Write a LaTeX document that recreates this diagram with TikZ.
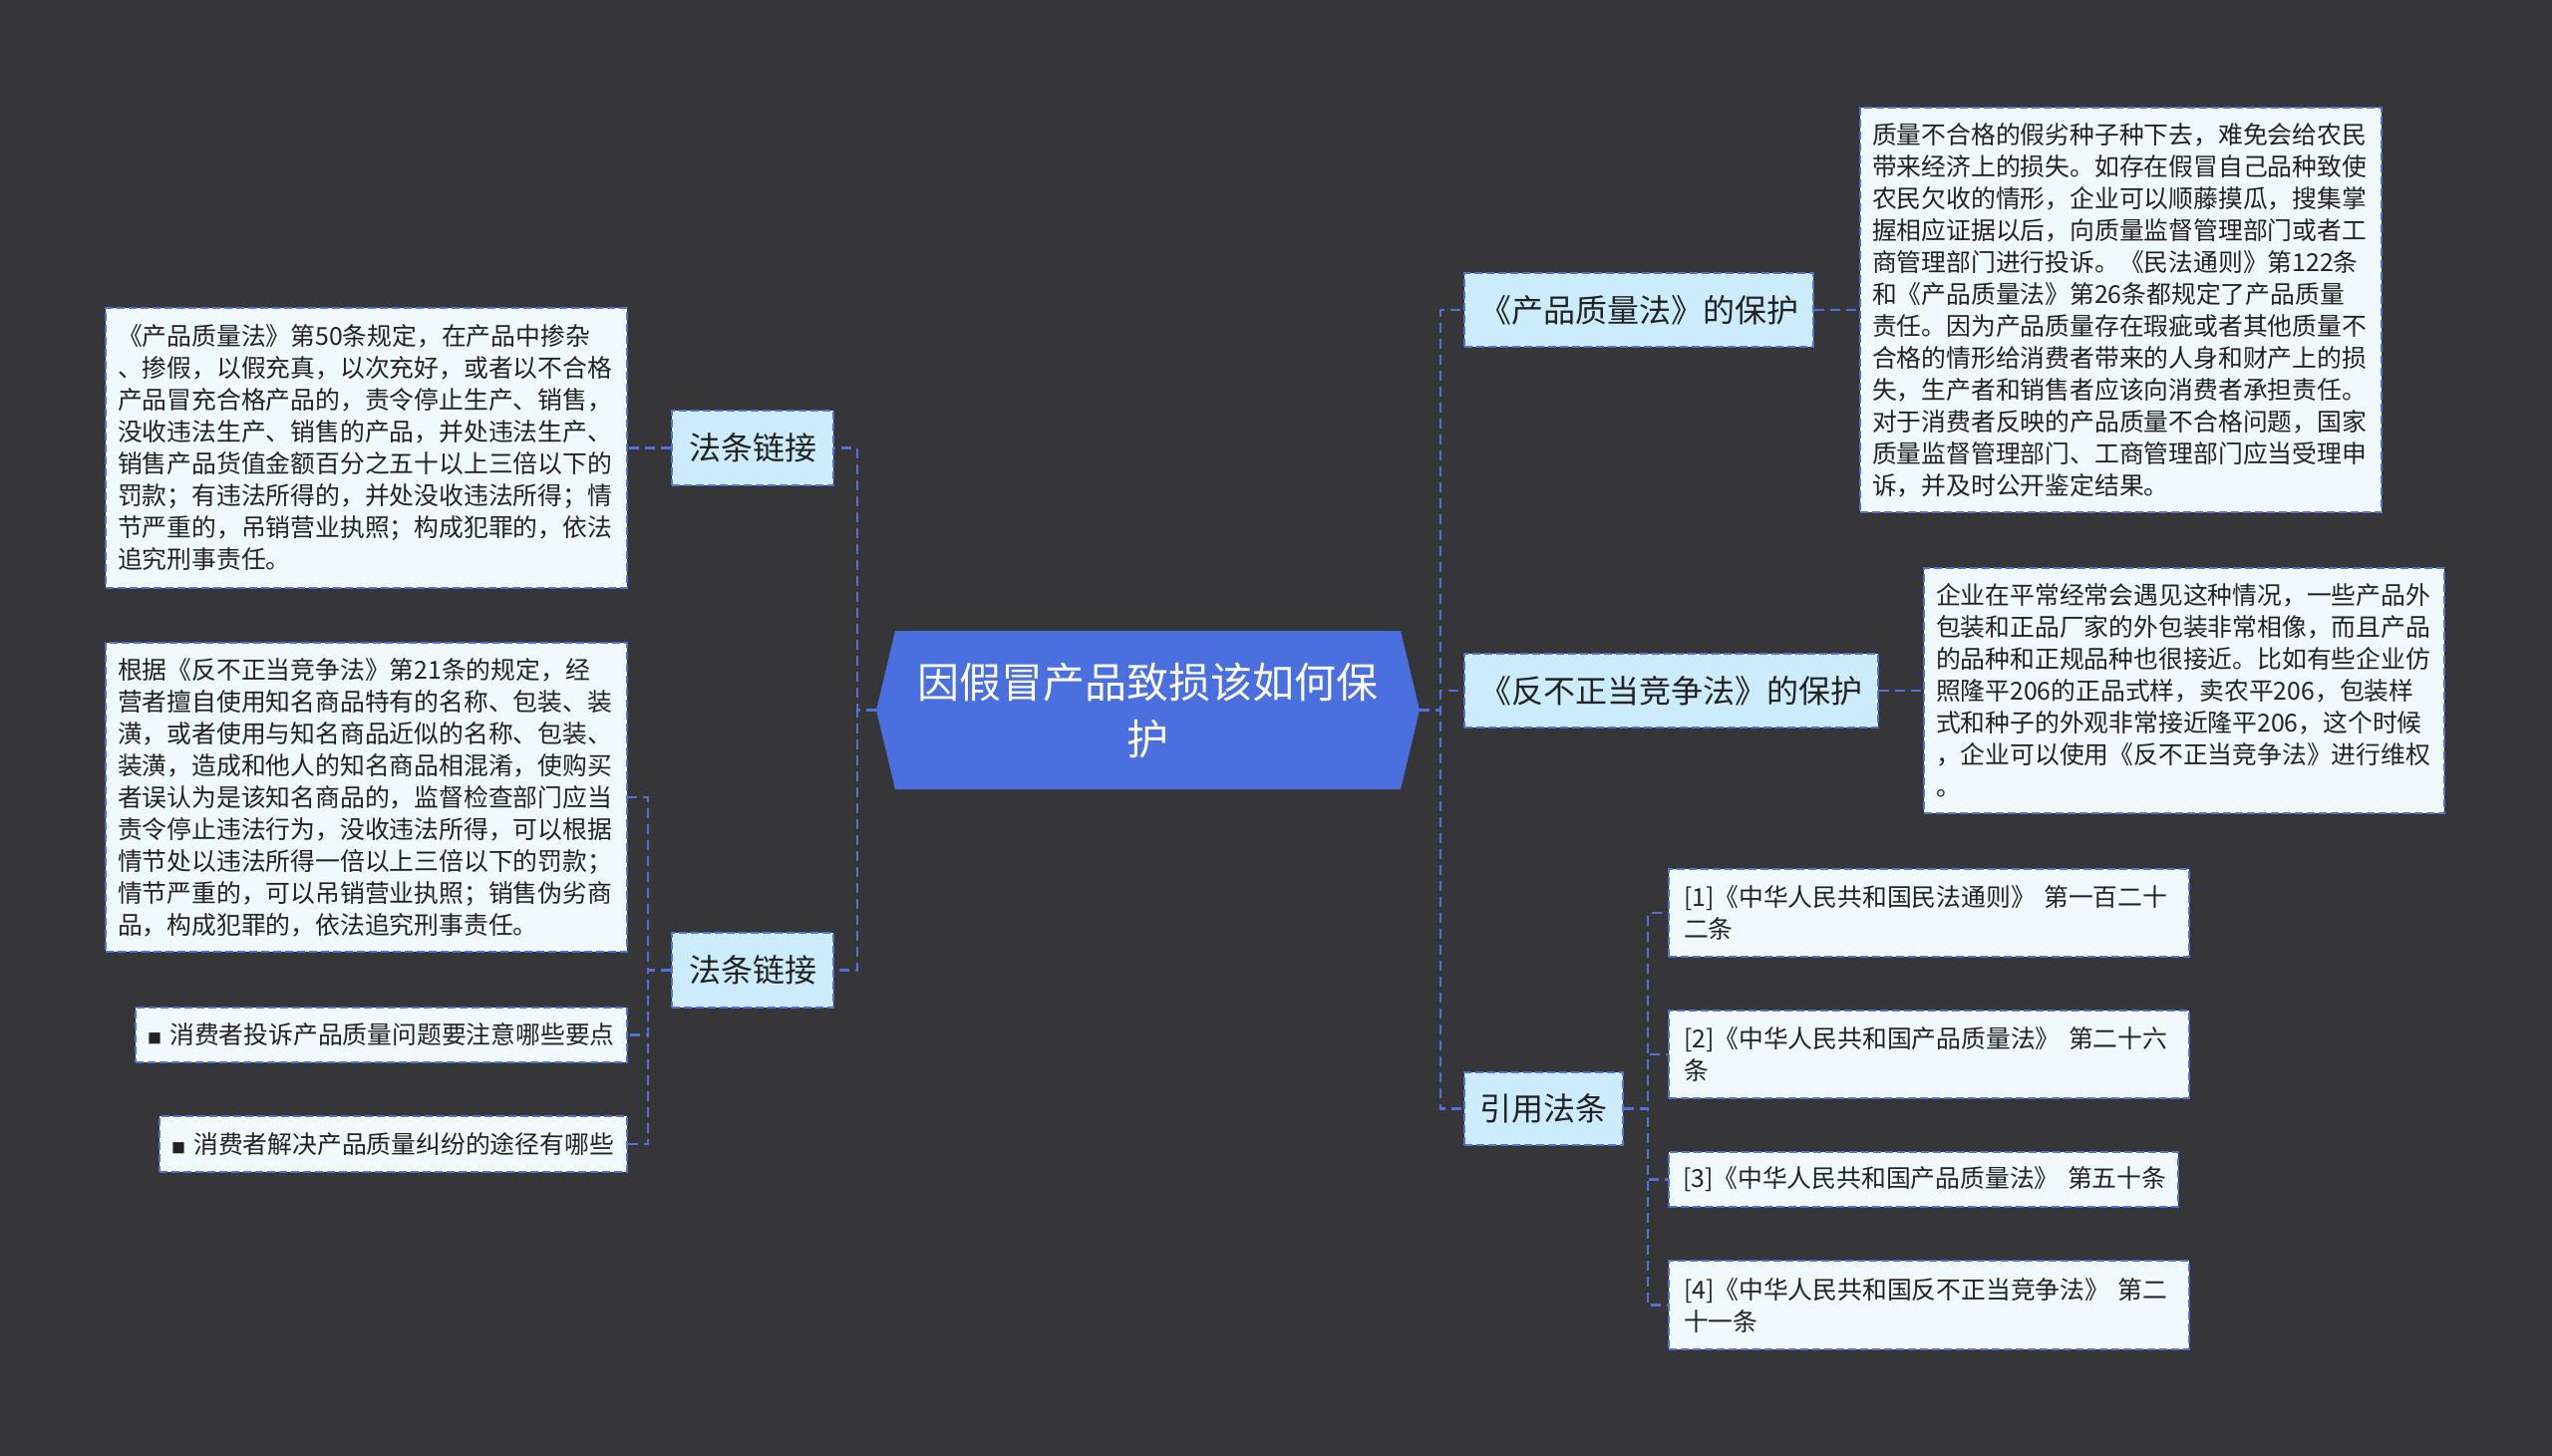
\documentclass[tikz,border=0pt]{standalone}
\usepackage{fontspec}
\setmainfont{Noto Sans CJK SC}
\definecolor{bgC}{RGB}{54,54,56}
\definecolor{rootC}{RGB}{74,111,222}
\definecolor{lineC}{RGB}{80,112,218}
\definecolor{topicC}{RGB}{204,236,252}
\definecolor{leafC}{RGB}{240,250,254}
\definecolor{txtC}{RGB}{34,34,34}
\tikzset{
  conn/.style={draw=lineC, line width=1.3pt, dash pattern=on 5pt off 3pt},
  boxline/.style={draw=lineC, line width=1pt, dash pattern=on 4pt off 2pt},
  topic/.style={boxline, fill=topicC, text=txtC, font=\fontsize{16pt}{18pt}\selectfont, inner sep=0pt},
  leaf/.style={boxline, fill=leafC, text=txtC, font=\fontsize{12.4pt}{16pt}\selectfont, align=left, inner xsep=6pt, inner ysep=0pt},
  refbox/.style={leaf, inner xsep=7.5pt},
  bul/.style={leaf, inner xsep=6pt}
}
\newcommand{\bsq}{{\fontsize{7pt}{7pt}\selectfont ■}\ }
\begin{document}
\begin{tikzpicture}[x=0.5pt,y=-0.5pt]
\fill[bgC] (0,0) rectangle (2560,1461);
\useasboundingbox (0,0) rectangle (2560,1461);

% root
\fill[rootC] (898,633) -- (1405,633) -- (1424,712.5) -- (1405,792) -- (898,792) -- (879,712.5) -- cycle;
\node[text=white, font=\fontsize{21pt}{28.5pt}\selectfont, align=center, minimum width=253.5pt, minimum height=79.5pt, inner sep=0pt] (root) at (1151.5,712.5) {因假冒产品致损该如何保\\护};
\coordinate (rootL) at (879,712.5);
\coordinate (rootR) at (1424,712.5);

% left topics
\node[topic, minimum width=81pt, minimum height=37.5pt] (L1) at (755,449.5) {法条链接};
\node[topic, minimum width=81pt, minimum height=37.5pt] (L2) at (755,973.5) {法条链接};

\node[leaf, text width=249.5pt, minimum height=140.5pt] (L1a) at (367.5,449.5) {《产品质量法》第50条规定，在产品中掺杂\\、掺假，以假充真，以次充好，或者以不合格\\产品冒充合格产品的，责令停止生产、销售，\\没收违法生产、销售的产品，并处违法生产、\\销售产品货值金额百分之五十以上三倍以下的\\罚款；有违法所得的，并处没收违法所得；情\\节严重的，吊销营业执照；构成犯罪的，依法\\追究刑事责任。};

\node[leaf, text width=249.5pt, minimum height=155pt] (L2a) at (367.5,800) {根据《反不正当竞争法》第21条的规定，经\\营者擅自使用知名商品特有的名称、包装、装\\潢，或者使用与知名商品近似的名称、包装、\\装潢，造成和他人的知名商品相混淆，使购买\\者误认为是该知名商品的，监督检查部门应当\\责令停止违法行为，没收违法所得，可以根据\\情节处以违法所得一倍以上三倍以下的罚款；\\情节严重的，可以吊销营业执照；销售伪劣商\\品，构成犯罪的，依法追究刑事责任。};

\node[bul, text width=234.5pt, minimum height=27.5pt] (L2b) at (382.5,1038.5) {\bsq 消费者投诉产品质量问题要注意哪些要点};
\node[bul, text width=222.5pt, minimum height=28pt] (L2c) at (394.5,1148) {\bsq 消费者解决产品质量纠纷的途径有哪些};

% right topics
\node[topic, minimum width=175pt, minimum height=37pt] (R1) at (1644,311) {《产品质量法》的保护};
\node[topic, minimum width=207.5pt, minimum height=37pt] (R2) at (1676.5,693) {《反不正当竞争法》的保护};
\node[topic, minimum width=79.5pt, minimum height=36.5pt] (R3) at (1548.5,1112.5) {引用法条};

\node[leaf, text width=249.5pt, minimum height=203pt] (R1a) at (2127.5,311) {质量不合格的假劣种子种下去，难免会给农民\\带来经济上的损失。如存在假冒自己品种致使\\农民欠收的情形，企业可以顺藤摸瓜，搜集掌\\握相应证据以后，向质量监督管理部门或者工\\商管理部门进行投诉。《民法通则》第122条\\和《产品质量法》第26条都规定了产品质量\\责任。因为产品质量存在瑕疵或者其他质量不\\合格的情形给消费者带来的人身和财产上的损\\失，生产者和销售者应该向消费者承担责任。\\对于消费者反映的产品质量不合格问题，国家\\质量监督管理部门、工商管理部门应当受理申\\诉，并及时公开鉴定结果。};

\node[leaf, text width=249pt, minimum height=123pt] (R2a) at (2191,693) {企业在平常经常会遇见这种情况，一些产品外\\包装和正品厂家的外包装非常相像，而且产品\\的品种和正规品种也很接近。比如有些企业仿\\照隆平206的正品式样，卖农平206，包装样\\式和种子的外观非常接近隆平206，这个时候\\，企业可以使用《反不正当竞争法》进行维权\\。};

\node[refbox, text width=246pt, minimum height=44pt] (ref1) at (1935,916) {[1]《中华人民共和国民法通则》~第一百二十\\二条};
\node[refbox, text width=246pt, minimum height=44pt] (ref2) at (1935,1058) {[2]《中华人民共和国产品质量法》~第二十六\\条};
\node[refbox, inner xsep=7pt, text width=241.5pt, minimum height=27.5pt] (ref3) at (1929.5,1183.5) {[3]《中华人民共和国产品质量法》~第五十条};
\node[refbox, text width=246pt, minimum height=44.5pt] (ref4) at (1935,1309.5) {[4]《中华人民共和国反不正当竞争法》~第二\\十一条};

% connectors
\draw[conn] (rootL) -- ++(-19,0) |- (L1.east);
\draw[conn] (rootL) -- ++(-19,0) |- (L2.east);
\draw[conn] (rootR) -- ++(21,0) |- (R1.west);
\draw[conn] (rootR) -- ++(21,0) |- (R2.west);
\draw[conn] (rootR) -- ++(21,0) |- (R3.west);

\draw[conn] (L1.west) -- (L1a.east);
\draw[conn] (L2.west) -- ++(-23,0) |- (L2a.east);
\draw[conn] (L2.west) -- ++(-23,0) |- (L2b.east);
\draw[conn] (L2.west) -- ++(-23,0) |- (L2c.east);

\draw[conn] (R1.east) -- (R1a.west);
\draw[conn] (R2.east) -- (R2a.west);
\draw[conn] (R3.east) -- ++(24,0) |- (ref1.west);
\draw[conn] (R3.east) -- ++(24,0) |- (ref2.west);
\draw[conn] (R3.east) -- ++(24,0) |- (ref3.west);
\draw[conn] (R3.east) -- ++(24,0) |- (ref4.west);
\end{tikzpicture}
\end{document}
